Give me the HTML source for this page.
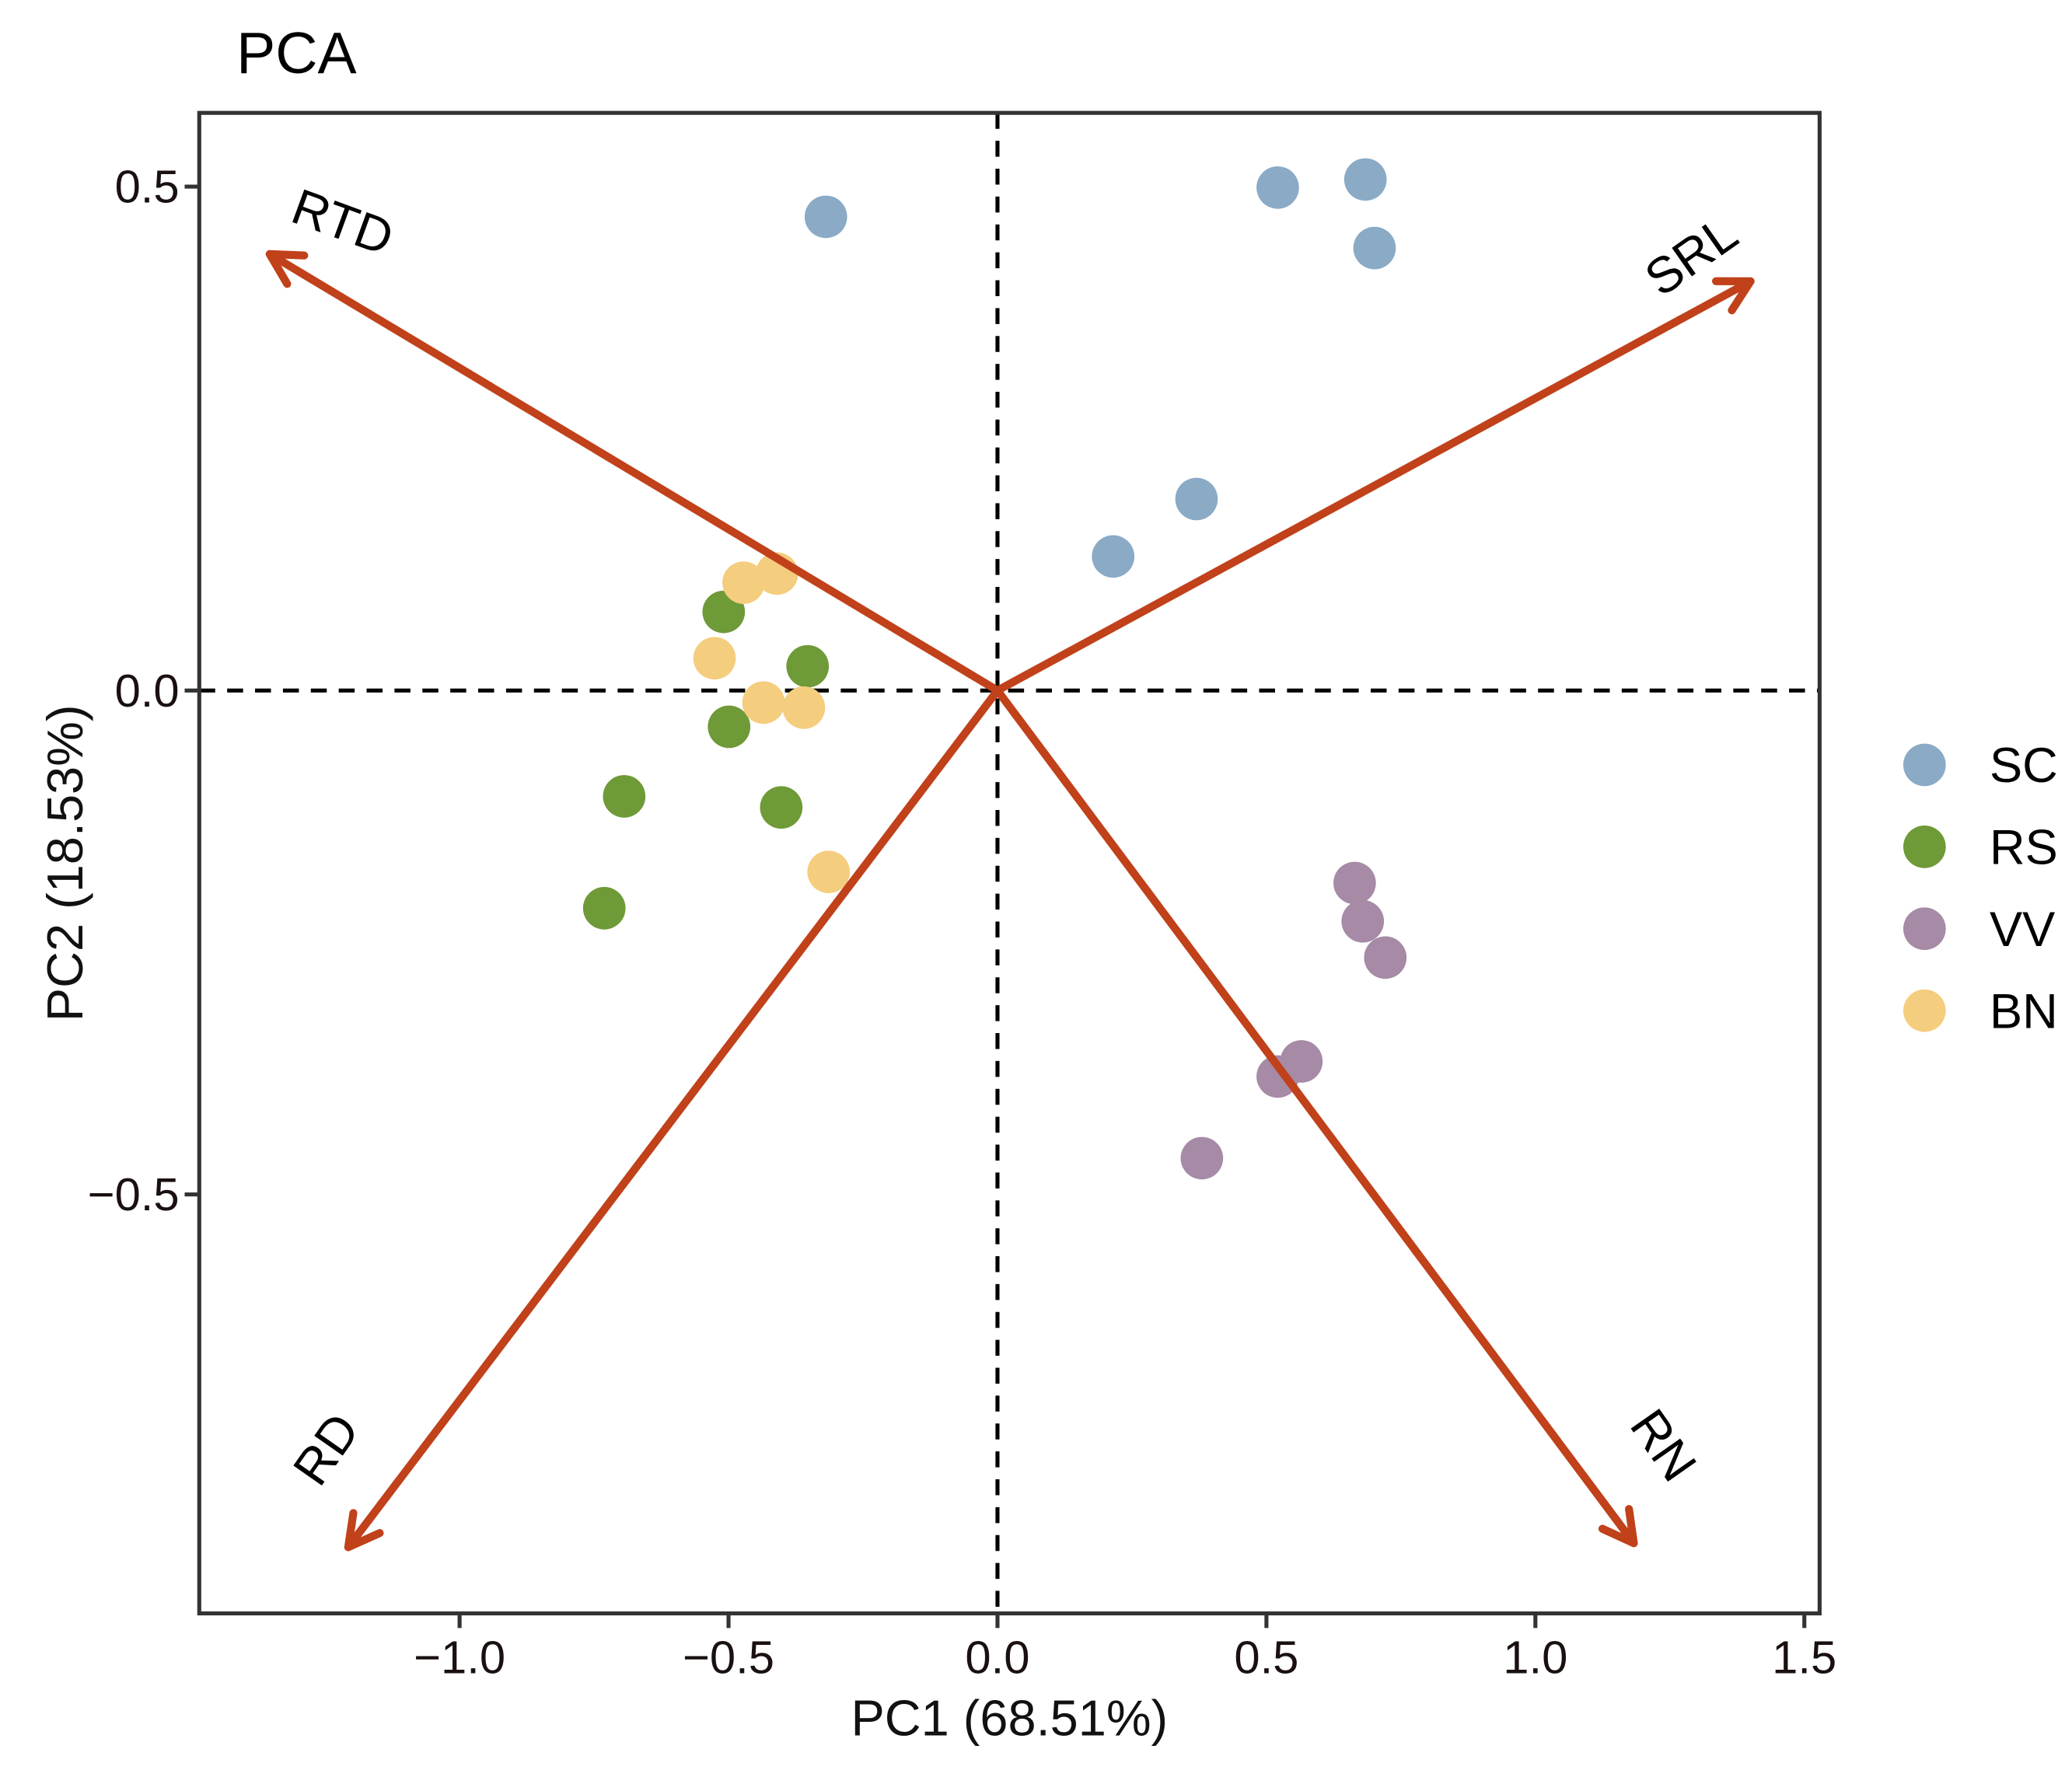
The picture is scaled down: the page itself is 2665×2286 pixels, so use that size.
<!DOCTYPE html>
<html><head><meta charset="utf-8"><style>
html,body{margin:0;padding:0;background:#fff;}
svg{display:block;font-family:"Liberation Sans",Arial,sans-serif;}
</style></head><body>
<svg id="chart" width="2665" height="2286" viewBox="0 0 1560 1338.2">
<text x="178" y="55" font-size="44" fill="#000">PCA</text>
<g id="plot"></g>
<rect x="150" y="85" width="1220" height="1130" fill="none" stroke="#333" stroke-width="3"/>
<text x="760" y="1307" font-size="38" text-anchor="middle" fill="#111">PC1 (68.51%)</text>
<text transform="translate(62,650) rotate(-90)" font-size="38" text-anchor="middle" fill="#111">PC2 (18.53%)</text>
<g id="legend"></g>
</svg>
<script>
const groups=["SC","RS","VV","BN"];
const colors=["#8aaac6","#6e9a37","#a68aa6","#f5cd7e"];
const scX=[-0.319,0.521,0.684,0.701,0.370,0.215];
const scY=[0.470,0.499,0.507,0.439,0.190,0.133];
const rsX=[-0.509,-0.353,-0.499,-0.694,-0.402,-0.731];
const rsY=[0.078,0.024,-0.036,-0.105,-0.116,-0.216];
const vvX=[0.664,0.679,0.721,0.565,0.521,0.380];
const vvY=[-0.191,-0.229,-0.265,-0.368,-0.383,-0.464];
const bnX=[-0.472,-0.410,-0.526,-0.435,-0.360,-0.314];
const bnY=[0.107,0.116,0.032,-0.012,-0.017,-0.180];
const loadNames=["RTD","SRL","RD","RN"];
const loadX=[-1.353,1.400,-1.207,1.183];
const loadY=[0.433,0.406,-0.850,-0.846];
const xTicks=[-1.0,-0.5,0.0,0.5,1.0,1.5];
const yTicks=[0.5,0.0,-0.5];
const NS="http://www.w3.org/2000/svg";
const sx=v=>751+v*405;
const sy=v=>520-v*759;
const svg=document.getElementById('chart');
const plot=document.getElementById('plot');
function mk(t,a,p){const e=document.createElementNS(NS,t);for(const k in a)e.setAttribute(k,a[k]);(p||plot).appendChild(e);return e;}
let l=mk('line',{x1:150,x2:1370,y1:sy(0),y2:sy(0),stroke:'#000','stroke-width':3,'stroke-dasharray':'12,9'});


l=mk('line',{x1:sx(0),x2:sx(0),y1:85,y2:1215,stroke:'#000','stroke-width':3,'stroke-dasharray':'12,9'});


const xs=[scX,rsX,vvX,bnX],ys=[scY,rsY,vvY,bnY];
for(let g=0;g<4;g++){for(let i=0;i<xs[g].length;i++){
 const c=mk('circle',{cx:sx(xs[g][i]),cy:sy(ys[g][i]),r:16,fill:colors[g]});
 
 
}}
const rot=[20,-35,-55,55];
const lab=[[257,170],[1275,195],[248,1093],[1250,1090]];
for(let i=0;i<4;i++){
 const ex=sx(loadX[i]),ey=sy(loadY[i]);
 const a=mk('line',{x1:sx(0),y1:sy(0),x2:ex,y2:ey,stroke:'#c0411a','stroke-width':6});
 
 
 const ang=Math.atan2(sy(0)-ey,sx(0)-ex);
 for(const s of [-1,1]){const h=mk('line',{x1:ex,y1:ey,x2:ex+26*Math.cos(ang+s*0.5),y2:ey+26*Math.sin(ang+s*0.5),stroke:'#c0411a','stroke-width':6,'stroke-linecap':'round'});
  
  }
 const t=mk('text',{x:lab[i][0],y:lab[i][1],'font-size':38,'text-anchor':'middle','dominant-baseline':'middle',transform:`rotate(${rot[i]} ${lab[i][0]} ${lab[i][1]})`});
 t.textContent=loadNames[i];
 
 
}
for(const v of xTicks){
 const tk=mk('line',{x1:sx(v),x2:sx(v),y1:1215,y2:1226,stroke:'#333','stroke-width':3},svg);
 
 
 const t=mk('text',{x:sx(v),y:1260,'font-size':35,'text-anchor':'middle',fill:'#1a1010'},svg);
 t.textContent=(v<0?'\u2212':'')+Math.abs(v).toFixed(1);
 
 
}
for(const v of yTicks){
 const tk=mk('line',{x1:139,x2:150,y1:sy(v),y2:sy(v),stroke:'#333','stroke-width':3},svg);
 
 
 const t=mk('text',{x:135,y:sy(v)+12,'font-size':35,'text-anchor':'end',fill:'#1a1010'},svg);
 t.textContent=(v<0?'\u2212':'')+Math.abs(v).toFixed(1);
 
 
}
const lg=document.getElementById('legend');
for(let g=0;g<4;g++){
 const y=576+g*61.7;
 const c=mk('circle',{cx:1449,cy:y,r:16,fill:colors[g]},lg);
 
 
 const t=mk('text',{x:1498,y:y+13,'font-size':37},lg);
 t.textContent=groups[g];
 
 
}
</script>
</body></html>
